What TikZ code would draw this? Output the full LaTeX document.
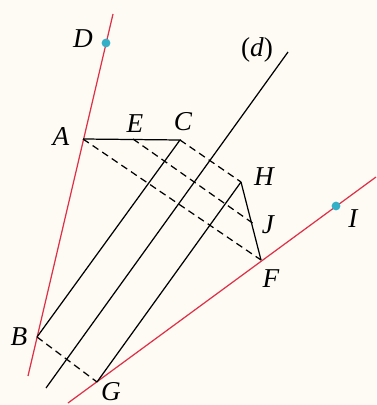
\documentclass[tikz,border=0pt]{standalone}
\usepackage{fontspec}
\setmainfont{Liberation Serif}
\usepackage{xcolor}
\usepackage{tikz}
\definecolor{linered}{HTML}{DF3048}
\definecolor{dotcyan}{HTML}{33B0C8}
\definecolor{paper}{HTML}{FDFBF4}

\begin{document}
\begin{tikzpicture}[x=0.02cm, y=-0.02cm, line width=0.7pt, redline/.style={draw=linered}, dashline/.style={dash pattern=on 4pt off 2.6pt}, dot/.style={circle,fill=dotcyan,inner sep=0pt,minimum size=5pt}, lbl/.style={font=\fontsize{15.5}{17}\selectfont\itshape}]
\fill[paper] (0,0) rectangle (376,405);
\useasboundingbox (0,0) rectangle (376,405);
% points
\coordinate (A) at (83,139);
\coordinate (B) at (37,337);
\coordinate (C) at (180,140);
\coordinate (E) at (133,139);
\coordinate (H) at (241,182);
\coordinate (J) at (252.5,223);
\coordinate (F) at (261,260);
\coordinate (G) at (97,382);
\coordinate (ABtop) at (113,14);
\coordinate (ABbot) at (28,376);
\coordinate (GIlow) at (68,403);
\coordinate (GIhigh) at (376,177);
\coordinate (dtop) at (288,52);
\coordinate (dbot) at (46,388);
% lines
\draw[redline] (ABtop) -- (ABbot);
\draw[redline] (GIlow) -- (GIhigh);
\draw (dtop) -- (dbot);
\draw (A) -- (C) -- (B);
\draw (H) -- (G);
\draw (H) -- (F);
\draw[dashline] (A) -- (F);
\draw[dashline] (E) -- (J);
\draw[dashline] (C) -- (H);
\draw[dashline] (B) -- (G);
\node[dot] (D) at (106,43) {};
\node[dot] (I) at (336,206) {};
% labels
\node[lbl] (lD) at (83,39) {D};
\node[lbl] (ld) at (257,50) {\upshape(\itshape d\/\upshape)};
\node[lbl] (lA) at (61,137) {A};
\node[lbl] (lE) at (135,124) {E};
\node[lbl] (lC) at (183,122) {C};
\node[lbl] (lH) at (264,177) {H};
\node[lbl] (lJ) at (268,225) {J};
\node[lbl] (lI) at (353,219) {I};
\node[lbl] (lF) at (271,279) {F};
\node[lbl] (lB) at (19,337) {B};
\node[lbl] (lG) at (111,392) {G};
\end{tikzpicture}
\end{document}
